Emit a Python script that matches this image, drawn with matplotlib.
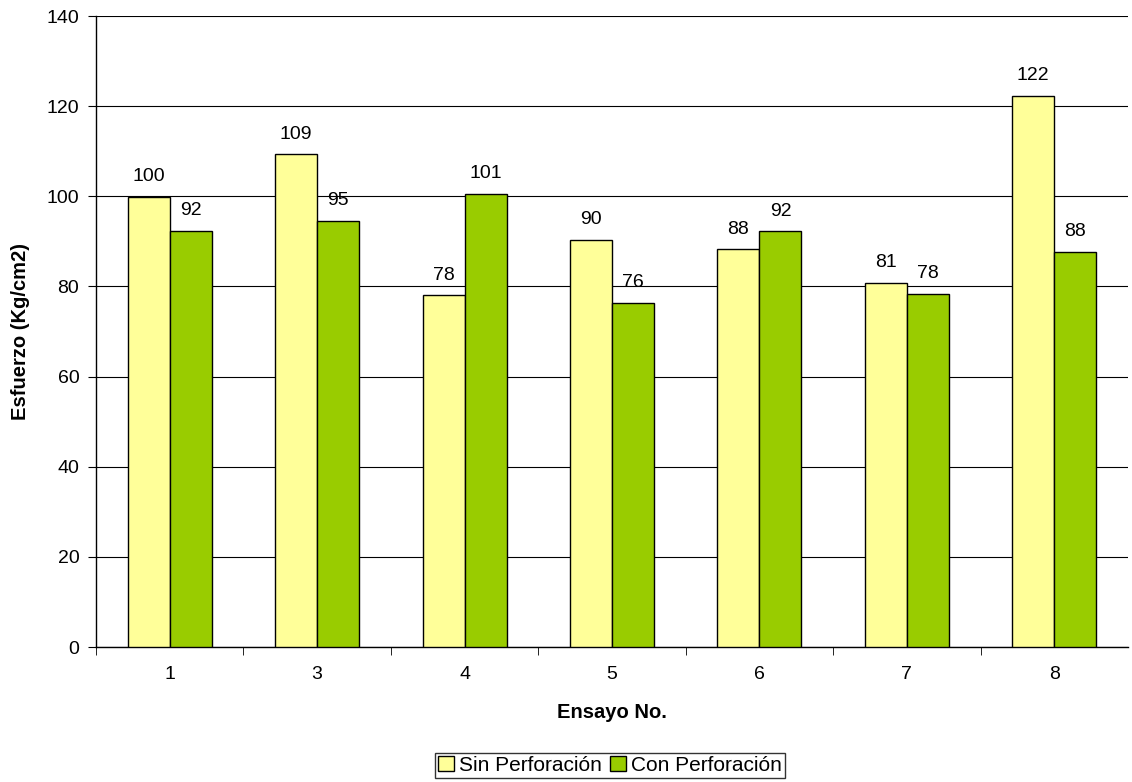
import matplotlib.pyplot as plt
import numpy as np

plt.rcParams['font.family'] = ['Liberation Sans', 'DejaVu Sans']

ensayos = ['1', '3', '4', '5', '6', '7', '8']
sin_perf = [99.8, 109.3, 78.0, 90.3, 88.2, 80.8, 122.3]
con_perf = [92.3, 94.6, 100.6, 76.4, 92.2, 78.4, 87.6]

fig = plt.figure(figsize=(11.32, 7.82), dpi=100)
ax = fig.add_axes([0.0848, 0.1726, 0.9117, 0.8069])

x = np.arange(len(ensayos))
w = 0.285
b1 = ax.bar(x - w / 2, sin_perf, w, color='#FFFF99', edgecolor='black', linewidth=1, label='Sin Perforación', zorder=3)
b2 = ax.bar(x + w / 2, con_perf, w, color='#99CC00', edgecolor='black', linewidth=1, label='Con Perforación', zorder=3)

for bars, vals in ((b1, sin_perf), (b2, con_perf)):
    for r, v in zip(bars, vals):
        ax.text(r.get_x() + r.get_width() / 2, v + 2.6, '%d' % round(v),
                ha='center', va='bottom', fontsize=14)

ax.set_xlim(-0.5, len(ensayos) - 0.5)
ax.set_ylim(0, 140)
ax.set_yticks(range(0, 141, 20))
ax.set_xticks(x)
ax.set_xticklabels(ensayos)
ax.set_xticks(np.arange(len(ensayos)) - 0.5, minor=True)
ax.tick_params(axis='x', which='major', length=0, pad=14, labelsize=14)
ax.tick_params(axis='x', which='minor', length=6, direction='out', color='black')
ax.tick_params(axis='y', length=6, direction='out', labelsize=14, color='black', pad=6)
ax.yaxis.grid(True, color='black', linewidth=0.8, zorder=0)
ax.set_axisbelow(True)
for s in ('top', 'right'):
    ax.spines[s].set_visible(False)
for s in ('left', 'bottom'):
    ax.spines[s].set_linewidth(1)
    ax.spines[s].set_color('black')

ax.set_xlabel('Ensayo No.', fontsize=14.5, fontweight='bold', labelpad=14)
ax.set_ylabel('Esfuerzo (Kg/cm2)', fontsize=14.5, fontweight='bold', labelpad=12)

leg = fig.legend(loc='center', bbox_to_anchor=(0.539, 0.021), ncol=2, fontsize=15,
                 frameon=True, fancybox=False, edgecolor='black', handlelength=0.75,
                 handleheight=0.75, handletextpad=0.25, columnspacing=0.4,
                 borderpad=0.15, borderaxespad=0)
leg.get_frame().set_linewidth(1)

fig.savefig('out.png', dpi=100)
